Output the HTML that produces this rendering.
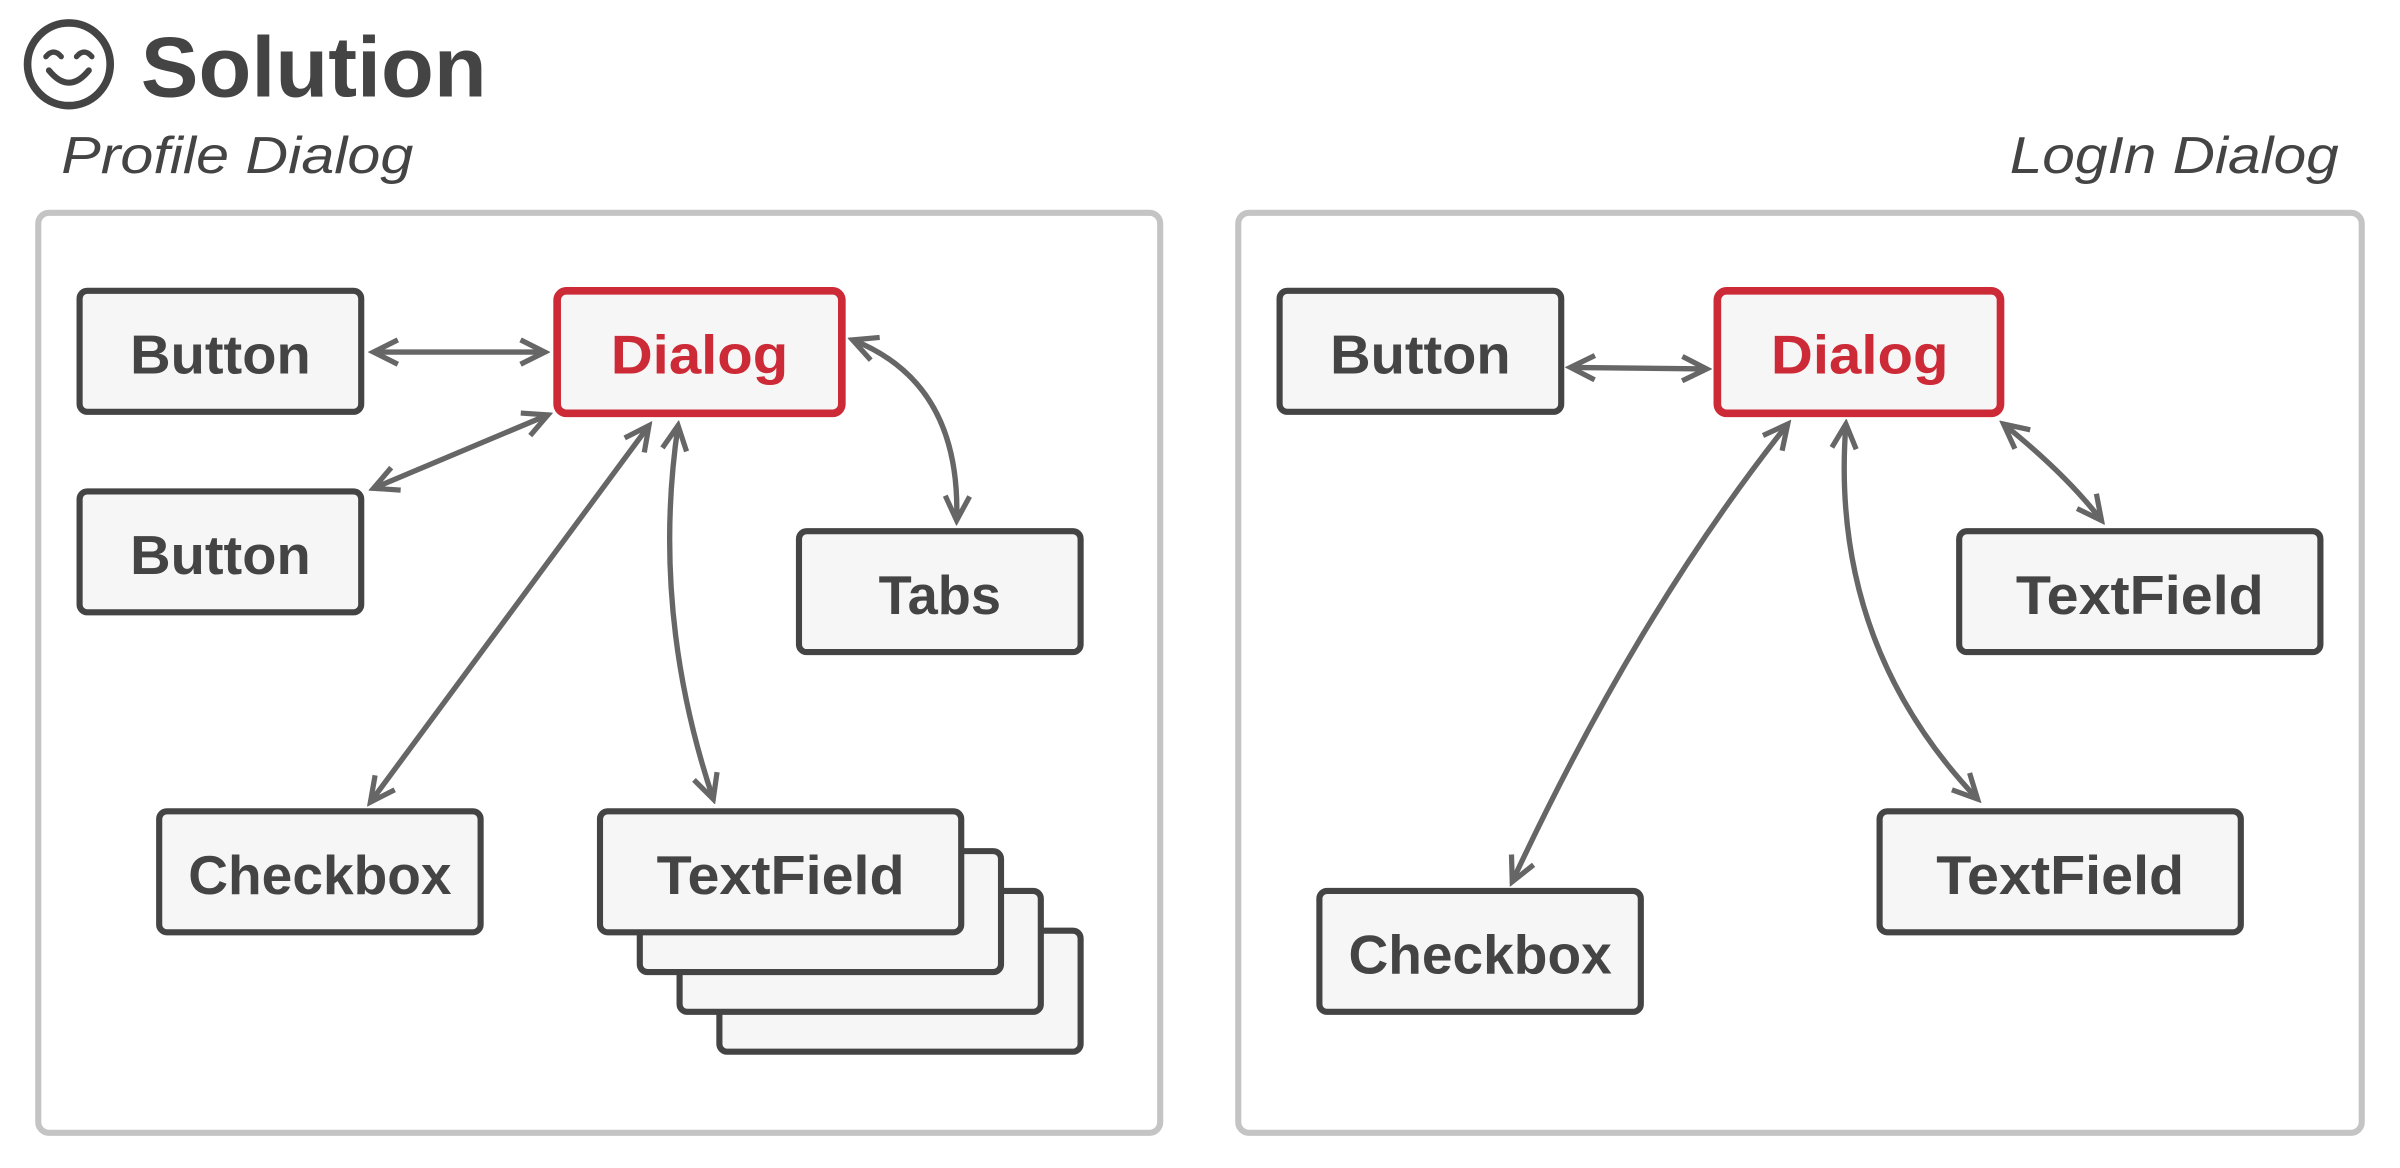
<!DOCTYPE html>
<html><head><meta charset="utf-8"><style>
html,body{margin:0;padding:0;background:#fff;}
svg{display:block;}
text{font-family:"Liberation Sans",sans-serif;}
</style></head><body>
<svg width="2400" height="1168" viewBox="0 0 1568 763" preserveAspectRatio="none" xmlns="http://www.w3.org/2000/svg">
<defs>
<marker id="a" viewBox="0 0 20 20" refX="17" refY="10" markerWidth="6.5" markerHeight="6.5" orient="auto-start-reverse" markerUnits="strokeWidth">
<path d="M3 3 L17 10 L3 17" fill="none" stroke="#666" stroke-width="3" stroke-linejoin="miter"/>
</marker>
</defs>
<!-- smiley -->
<circle cx="45" cy="42" r="27" fill="none" stroke="#444" stroke-width="5"/>
<path d="M30 37 q5 -6 10 0 M50 37 q5 -6 10 0" fill="none" stroke="#444" stroke-width="3.5" stroke-linecap="round"/>
<path d="M32 46 q13 16 26 0" fill="none" stroke="#444" stroke-width="4" stroke-linecap="round"/>
<text x="92" y="63" font-size="56" font-weight="bold" fill="#444" textLength="226" lengthAdjust="spacingAndGlyphs">Solution</text>
<text x="40" y="113" font-size="34" font-style="italic" fill="#444" textLength="230" lengthAdjust="spacingAndGlyphs">Profile Dialog</text>
<text x="1313" y="113" font-size="34" font-style="italic" fill="#444" textLength="215" lengthAdjust="spacingAndGlyphs">LogIn Dialog</text>
<!-- panels -->
<rect x="25" y="139" width="733" height="601" rx="7" fill="#fff" stroke="#c4c4c4" stroke-width="4"/>
<rect x="809" y="139" width="734" height="601" rx="7" fill="#fff" stroke="#c4c4c4" stroke-width="4"/>
<g fill="#f6f6f6" stroke="#444" stroke-width="4">
<rect x="52" y="190" width="184" height="79" rx="5"/>
<rect x="52" y="321" width="184" height="79" rx="5"/>
<rect x="522" y="347" width="184" height="79" rx="5"/>
<rect x="104" y="530" width="210" height="79" rx="5"/>
<rect x="470" y="608" width="236" height="79" rx="5"/>
<rect x="444" y="582" width="236" height="79" rx="5"/>
<rect x="418" y="556" width="236" height="79" rx="5"/>
<rect x="392" y="530" width="236" height="79" rx="5"/>
<rect x="836" y="190" width="184" height="79" rx="5"/>
<rect x="1280" y="347" width="236" height="79" rx="5"/>
<rect x="1228" y="530" width="236" height="79" rx="5"/>
<rect x="862" y="582" width="210" height="79" rx="5"/>
</g>
<g fill="#f6f6f6" stroke="#cc2a36" stroke-width="5">
<rect x="364" y="190" width="186" height="80" rx="6"/>
<rect x="1122" y="190" width="185" height="80" rx="6"/>
</g>
<g font-size="36" font-weight="bold" fill="#444" text-anchor="middle">
<text x="144" y="244" textLength="118" lengthAdjust="spacingAndGlyphs">Button</text>
<text x="144" y="375" textLength="118" lengthAdjust="spacingAndGlyphs">Button</text>
<text x="614" y="401" textLength="80" lengthAdjust="spacingAndGlyphs">Tabs</text>
<text x="209" y="584" textLength="172" lengthAdjust="spacingAndGlyphs">Checkbox</text>
<text x="510" y="584" textLength="162" lengthAdjust="spacingAndGlyphs">TextField</text>
<text x="928" y="244" textLength="118" lengthAdjust="spacingAndGlyphs">Button</text>
<text x="1398" y="401" textLength="162" lengthAdjust="spacingAndGlyphs">TextField</text>
<text x="1346" y="584" textLength="162" lengthAdjust="spacingAndGlyphs">TextField</text>
<text x="967" y="636" textLength="172" lengthAdjust="spacingAndGlyphs">Checkbox</text>
<text x="457" y="244" fill="#cc2a36" textLength="116" lengthAdjust="spacingAndGlyphs">Dialog</text>
<text x="1215" y="244" fill="#cc2a36" textLength="116" lengthAdjust="spacingAndGlyphs">Dialog</text>
</g>
<g fill="none" stroke="#666" stroke-width="3.5" marker-start="url(#a)" marker-end="url(#a)">
<path d="M244 230 L356 230"/>
<path d="M244 319 L358 271"/>
<path d="M242 524 L424 278"/>
<path d="M443 278 Q425 400 466 522"/>
<path d="M557 222 Q628 250 625 340"/>
<path d="M1026 240 L1115 241"/>
<path d="M1168 277 Q1070 400 988 576"/>
<path d="M1206 277 Q1195 420 1292 522"/>
<path d="M1309 277 Q1350 310 1373 340"/>
</g>
</svg>
</body></html>
